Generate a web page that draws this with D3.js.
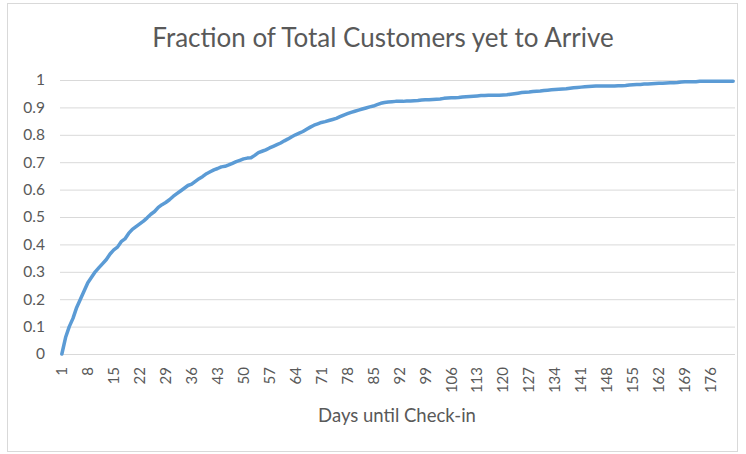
<!DOCTYPE html>
<html>
<head>
<meta charset="utf-8">
<script src="https://cdn.jsdelivr.net/npm/d3@7"></script>
<style>
  body { margin: 0; background: #fff; }
  svg text { font-family: Lato, "Open Sans", sans-serif; fill: #595959; }
</style>
</head>
<body>
<div id="chart"></div>
<script>
// days until check-in (categories 1..182)
const days = d3.range(1, 183);

// fraction of total customers yet to arrive
const fractions = [
  0, 0.06, 0.10, 0.13, 0.17, 0.20, 0.23, 0.26, 0.28, 0.30,
  0.315, 0.33, 0.345, 0.365, 0.38, 0.39, 0.41, 0.42, 0.44, 0.455,
  0.465, 0.475, 0.485, 0.497, 0.51, 0.52, 0.535, 0.545, 0.553, 0.563,
  0.575, 0.585, 0.595, 0.605, 0.615, 0.62, 0.63, 0.64, 0.648, 0.658,
  0.665, 0.672, 0.677, 0.683, 0.685, 0.69, 0.696, 0.702, 0.707, 0.712,
  0.715, 0.716, 0.725, 0.735, 0.74, 0.745, 0.752, 0.758, 0.764, 0.77,
  0.778, 0.785, 0.793, 0.80, 0.806, 0.812, 0.82, 0.828, 0.835, 0.84,
  0.845, 0.848, 0.852, 0.856, 0.86, 0.866, 0.872, 0.877, 0.882, 0.886,
  0.89, 0.894, 0.898, 0.902, 0.905, 0.91, 0.915, 0.918, 0.92, 0.921,
  0.922, 0.922, 0.922, 0.923, 0.923, 0.924, 0.925, 0.927, 0.928, 0.928,
  0.929, 0.930, 0.931, 0.933, 0.934, 0.935, 0.935, 0.936, 0.938, 0.939,
  0.940, 0.941, 0.942, 0.943, 0.943, 0.944, 0.944, 0.944, 0.944, 0.945,
  0.946, 0.948, 0.950, 0.952, 0.954, 0.955, 0.956, 0.958, 0.959, 0.960,
  0.962, 0.963, 0.964, 0.965, 0.966, 0.967, 0.968, 0.970, 0.972, 0.973,
  0.974, 0.975, 0.976, 0.977, 0.978, 0.978, 0.978, 0.978, 0.978, 0.978,
  0.979, 0.979, 0.980, 0.982, 0.983, 0.984, 0.984, 0.985, 0.985, 0.986,
  0.987, 0.988, 0.988, 0.989, 0.990, 0.990, 0.991, 0.993, 0.994, 0.994,
  0.994, 0.994, 0.995, 0.995, 0.995, 0.995, 0.995, 0.995, 0.995, 0.995,
  0.995, 0.995
];

// tick labels
const xTickLabels = [1, 8, 15, 22, 29, 36, 43, 50, 57, 64, 71, 78, 85, 92, 99, 106,
  113, 120, 127, 134, 141, 148, 155, 162, 169, 176];
const yTickValues = [0, 0.1, 0.2, 0.3, 0.4, 0.5, 0.6, 0.7, 0.8, 0.9, 1];
const yTickLabels = ["0", "0.1", "0.2", "0.3", "0.4", "0.5", "0.6", "0.7", "0.8", "0.9", "1"];

const width = 746, height = 454;
const margin = { top: 80, right: 11, bottom: 100, left: 60 };
const plotWidth = width - margin.left - margin.right;
const plotHeight = height - margin.top - margin.bottom;

const svg = d3.select("#chart")
  .append("svg")
  .attr("width", width)
  .attr("height", height);

// chart border
svg.append("rect")
  .attr("x", 7.5)
  .attr("y", 3.5)
  .attr("width", 730)
  .attr("height", 448)
  .attr("fill", "#fff")
  .attr("stroke", "#d9d9d9");

// title
svg.append("text")
  .attr("x", 383)
  .attr("y", 47)
  .attr("text-anchor", "middle")
  .style("font-size", "26px")
  .text("Fraction of Total Customers yet to Arrive");

const g = svg.append("g")
  .attr("transform", `translate(${margin.left}, ${margin.top})`);

const xScale = d3.scaleBand()
  .domain(days)
  .range([0, plotWidth]);

const yScale = d3.scaleLinear()
  .domain([0, 1])
  .range([plotHeight, 0]);

// y axis with gridlines
const yAxis = g.append("g")
  .attr("class", "y-axis")
  .call(d3.axisLeft(yScale)
    .tickValues(yTickValues)
    .tickSize(-plotWidth)
    .tickPadding(15)
    .tickFormat((d, i) => yTickLabels[i]));

yAxis.select(".domain").remove();
yAxis.selectAll("line").attr("stroke", "#d9d9d9");
yAxis.selectAll("text").style("font-size", "15.5px").attr("fill", "#595959");

// x axis, rotated category labels
const xAxis = g.append("g")
  .attr("class", "x-axis")
  .attr("transform", `translate(0, ${plotHeight})`)
  .call(d3.axisBottom(xScale)
    .tickValues(xTickLabels)
    .tickSize(0));

xAxis.select(".domain").remove();
xAxis.selectAll("text")
  .style("font-size", "15px")
  .attr("fill", "#595959")
  .attr("text-anchor", "end")
  .attr("transform", "rotate(-90)")
  .attr("x", -13)
  .attr("y", 0)
  .attr("dy", "0.35em");

// the curve
const line = d3.line()
  .x((d, i) => xScale(days[i]) + xScale.bandwidth() / 2)
  .y(d => yScale(d));

g.append("path")
  .datum(fractions)
  .attr("fill", "none")
  .attr("stroke", "#5b9bd5")
  .attr("stroke-width", 3.5)
  .attr("stroke-linejoin", "round")
  .attr("stroke-linecap", "round")
  .attr("d", line);

// x-axis title
svg.append("text")
  .attr("x", 397)
  .attr("y", 422)
  .attr("text-anchor", "middle")
  .style("font-size", "18.5px")
  .text("Days until Check-in");
</script>
</body>
</html>
